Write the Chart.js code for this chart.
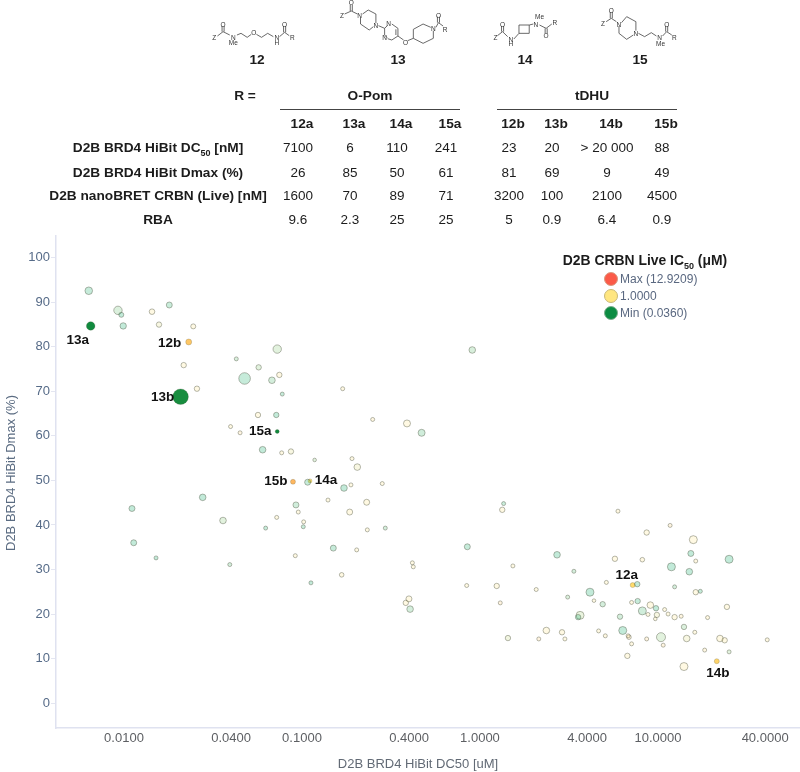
<!DOCTYPE html>
<html>
<head>
<meta charset="utf-8">
<script src="https://cdn.jsdelivr.net/npm/chart.js@4"></script>
<style>
  html, body { margin: 0; padding: 0; background: #fff; }
  #page { position: relative; width: 800px; height: 772px; overflow: hidden; font-family: "Liberation Sans", Arial, sans-serif; }
  #plot { position: absolute; left: 0; top: 0; }
  #mols { position: absolute; left: 0; top: 0; }
  .t { position: absolute; white-space: nowrap; transform: translate(-50%, -50%); color: #1c1c1c; font-size: 13.5px; line-height: 16px; }
  .b { font-weight: bold; font-size: 13.7px; }
  .rule { position: absolute; height: 1px; background: #444; top: 109px; }
  sub { font-size: 9px; line-height: 0; }
  .leg { position: absolute; white-space: nowrap; left: 620px; color: #5a6880; font-size: 12px; line-height: 14px; }
  .dot { position: absolute; left: 604px; width: 12px; height: 12px; border-radius: 50%; border: 1px solid #b3a98a; }
</style>
</head>
<body>
<div id="page">
  <canvas id="plot" width="800" height="772"></canvas>
  <svg id="mols" width="800" height="240"></svg>
  <div id="table"></div>
  <div class="rule" style="left:280px;width:180px"></div>
  <div class="rule" style="left:497px;width:180px"></div>
  <div class="t b" style="left:645px;top:260px;font-size:13.9px">D2B CRBN Live IC<sub>50</sub> (&mu;M)</div>
  <div class="dot" style="top:272px;background:#fb5a48;border-color:#d99a80"></div>
  <div class="dot" style="top:289px;background:#ffe680;border-color:#c9b878"></div>
  <div class="dot" style="top:306px;background:#0c8c42;border-color:#7fae8e"></div>
  <div class="leg" style="top:272px">Max (12.9209)</div>
  <div class="leg" style="top:289px">1.0000</div>
  <div class="leg" style="top:306px">Min (0.0360)</div>
</div>
<script>
// scatter, all compounds
var dc50 = [0.00634,0.00925,0.00966,0.0099,0.01437,0.01797,0.01573,0.0245,0.02165,0.0257,0.04275,0.0571,0.0726,0.0746,0.0476,0.0678,0.0775,0.0566,0.0717,0.0397,0.0449,0.0601,0.0769,0.0867,0.1693,0.905,0.2496,0.389,0.47,0.1178,0.191,0.2045,0.2825,0.1884,0.1076,0.1722,0.02768,0.01109,0.036,0.01134,0.01514,0.0393,0.0625,0.0721,0.0925,0.0953,0.1022,0.1017,0.0917,0.1123,0.14,0.1854,0.2309,0.2328,0.2938,0.15,0.2029,0.1671,1.358,1.334,0.849,2.71,0.417,0.422,1.531,3.37,0.842,1.242,2.07,4.15,3.11,4.37,0.399,0.383,0.405,1.3,3.65,3.56,2.36,2.89,1.436,2.14,3,4.64,5.96,11.7,8.64,15.8,15.3,5.73,8.17,16.3,25.1,11.9,15,7.65,5.13,12.4,16.3,17.3,4.89,7.11,7.69,9.06,9.75,8.17,8.79,9.86,10.9,11.4,9.66,12.4,13.5,19,24.4,6.12,6.34,5.06,6.87,6.8,7.11,8.64,10.4,10.7,6.73,14,16.1,14.5,22.3,23.7,18.3,25.1,14,41.1];
var dmax = [92.6,88.2,87.2,84.7,87.9,89.4,85,84.6,75.9,70.6,77.3,75.4,79.5,73.7,72.9,72.5,69.4,64.7,64.7,62.1,60.7,56.9,56.2,56.5,70.6,79.3,63.7,62.8,60.7,54.6,54.9,53,49.3,49,49.6,48.3,46.2,43.7,41,36,32.6,31.1,39.3,41.7,44.5,42.9,40.7,39.6,33.1,27,45.6,42.9,45.1,38.9,39.3,34.8,34.4,28.8,44.8,43.4,35.1,33.3,31.5,30.6,30.8,29.6,26.4,26.3,25.5,24.9,23.8,23,23.4,22.5,21.1,22.5,19.7,19.3,16.3,15.9,14.6,14.4,14.4,16.2,43.1,39.9,38.3,36.7,33.6,32.4,32.2,31.9,32.3,30.6,29.5,26.7,27.1,26.1,24.9,25.1,22.2,22.6,22.9,22,21.3,20.7,19.9,19.8,21,20,18.9,19.3,19.5,19.2,21.6,19.4,16.3,15.1,14.8,15.1,13.3,14.4,14.8,13,10.6,17.1,15.9,14.5,14.5,14.1,11.9,11.5,8.2,14.2];
var bubbleSize = [3.8,4.2,2.5,3.2,2.8,3,2.7,2.5,2.7,2.7,2,2.7,4.2,2.7,5.8,3.3,2,2.7,2.7,2,2,3.3,2,2.7,2,3.3,2,3.5,3.5,1.8,2,3.3,2,2,3,3.3,3.3,3,3.3,3,2,2,2,2,3,2,2,2,2,2,2,3,3,2,2,3,2,2.3,2,2.7,3,3.3,2,2,2,2,2,2.7,2,4,2,1.8,3,2.7,3.3,2,4,2.7,3.3,2.7,2.7,2,2,2,2,2,2.7,4,3,2.7,2.3,2,4,4,3.3,2.7,2,2,2.7,2,2.7,2,2.7,3.3,2.7,4,2,2.7,2,2,1.8,2.7,2,2,2.7,2.7,4,2,2.3,2,2,2,4.5,2,2.7,2.7,2,3.3,3.3,2.7,2,2,4,2];
var ic50 = [0.2,0.5,0.15,0.15,1,0.25,0.9,1,1,1,0.45,0.6,0.6,1.3,0.2,0.4,0.2,1,0.15,1,2,0.15,1,0.9,1.2,0.45,1.6,1,0.35,0.6,1,0.9,1,1,0.2,0.15,0.15,0.15,0.6,0.15,0.15,0.4,0.2,1,0.35,1,1,0.25,1,0.15,1,1,1.1,1,0.4,0.2,1,1,0.25,1,0.2,0.15,1,1,1,0.4,1,1,1,0.15,0.5,1,1,1,0.4,2.5,0.7,0.15,1,1,0.8,2.5,1,1,1.2,2,1,1,0.15,1,1.2,1.6,0.15,0.15,0.15,0.15,1,0.4,1,0.2,0.4,1,0.2,1,0.15,0.35,1,0.9,1,1.1,1,1,1.8,1.2,1,0.4,0.15,1.2,2,1.5,1.2,2.5,0.6,2,1,0.5,1,0.9,1,1,1.5,0.6,1,1.2];

// compounds from the table, called out on the plot
var calloutNames = ['13a','12b','13b','15a','15b','14a','12a','14b'];
var calloutDc50 = [0.0065,0.0231,0.0208,0.0726,0.089,0.1109,7.21,21.4];
var calloutDmax = [84.7,81.1,68.8,61,49.7,49.9,26.5,9.4];
var calloutSize = [4.3,3,7.8,2,2.5,2,2.5,2.5];
var calloutIc50 = [0.07,3.2,0.1,0.071,4.5,1,1.6,2.1];

var xTicks = [0.01,0.04,0.1,0.4,1,4,10,40];
var yTicks = [0,10,20,30,40,50,60,70,80,90,100];

// table above the plot
var tableColsX = [298,350,397,446,509,552,607,662];
var tableHeads = ['12a','13a','14a','15a','12b','13b','14b','15b'];
var rowLabels = ['D2B BRD4 HiBit DC<sub>50</sub> [nM]','D2B BRD4 HiBit Dmax (%)','D2B nanoBRET CRBN (Live) [nM]','RBA'];
var rowDc50 = ['7100','6','110','241','23','20','> 20 000','88'];
var rowDmax = ['26','85','50','61','81','69','9','49'];
var rowCrbn = ['1600','70','89','71','3200','100','2100','4500'];
var rowRba = ['9.6','2.3','25','25','5','0.9','6.4','0.9'];

function addText(html, x, y, bold) {
  var d = document.createElement('div');
  d.className = bold ? 't b' : 't';
  d.style.left = x + 'px';
  d.style.top = y + 'px';
  d.innerHTML = html;
  document.getElementById('table').appendChild(d);
}
addText('R =', 245, 96, true);
addText('O-Pom', 370, 96, true);
addText('tDHU', 592, 96, true);
[['12',257],['13',398],['14',525],['15',640]].forEach(function (m) { addText(m[0], m[1], 60, true); });
tableHeads.forEach(function (h, i) { addText(h, tableColsX[i] + 4, 124, true); });
[rowDc50, rowDmax, rowCrbn, rowRba].forEach(function (row, r) {
  var y = [148, 173, 196, 220][r];
  addText(rowLabels[r], 158, y, true);
  row.forEach(function (v, i) { addText(v, tableColsX[i], y, false); });
});

// structures
var bonds = [
  [[424,108],[435,95],[448,105]], [[433,95],[433,78]], [[437,95],[437,78]],
  [[462,105],[470,100],[482,112],[490,103]], [[500,103],[510,112],[522,100],[533,110]],
  [[545,110],[555,97],[564,107]], [[553,97],[553,78]], [[557,97],[557,78]],

  [[672,42],[685,33],[697,42]], [[683,33],[683,15]], [[687,33],[687,15]],
  [[703,52],[703,72],[720,90],[728,80]], [[707,42],[718,30],[733,42],[733,70]],
  [[738,77],[750,85],[756,76]], [[750,85],[750,105],[755,113]], [[764,72],[776,85],[776,108],[764,120],[756,116]], [[772,88],[772,105]],
  [[776,108],[787,120]], [[795,122],[806,115],[806,88],[825,72],[840,82]], [[806,115],[825,130],[845,115],[845,92]],
  [[850,82],[855,68],[864,78]], [[853,68],[853,50]], [[857,68],[857,50]],

  [[970,107],[980,95],[990,110]], [[978,95],[978,78]], [[982,95],[982,78]],
  [[1002,117],[1012,100]], [[1012,75],[1032,75],[1032,100],[1012,100],[1012,75]], [[1032,75],[1040,72]],
  [[1052,75],[1065,85],[1076,72]], [[1063,85],[1063,100]], [[1067,85],[1067,100]],

  [[1182,65],[1192,55],[1202,65]], [[1190,55],[1190,36]], [[1194,55],[1194,36]],
  [[1207,78],[1207,100],[1222,118],[1235,105]], [[1212,68],[1222,50],[1240,65],[1240,92]],
  [[1245,100],[1257,110],[1270,98],[1280,108]], [[1292,108],[1300,95],[1310,105]], [[1298,95],[1298,78]], [[1302,95],[1302,78]]
];
var atoms = [
  ['Z',418,112],['O',435,72],['N',455,112],['Me',455,128],['O',495,98],['N',540,113],['H',540,128],['O',555,72],['R',570,112],
  ['Z',667,47],['O',685,8],['N',701,47],['N',733,75],['N',758,70],['N',750,112],['O',791,128],['N',845,85],['O',855,45],['R',868,88],
  ['Z',966,112],['O',980,72],['N',996,118],['H',996,130],['N',1045,72],['Me',1052,50],['O',1065,105],['R',1082,68],
  ['Z',1176,70],['O',1192,30],['N',1207,72],['N',1240,100],['N',1286,112],['Me',1288,130],['O',1300,72],['R',1315,112]
];
var svg = document.getElementById('mols');
var svgNs = 'http://www.w3.org/2000/svg';
bonds.forEach(function (b) {
  var p = document.createElementNS(svgNs, 'polyline');
  p.setAttribute('points', b.map(function (q) { return (q[0] / 1.95) + ',' + (q[1] / 3); }).join(' '));
  p.setAttribute('fill', 'none');
  p.setAttribute('stroke', '#444');
  p.setAttribute('stroke-width', '0.8');
  svg.appendChild(p);
});
atoms.forEach(function (a) {
  var t = document.createElementNS(svgNs, 'text');
  t.setAttribute('x', a[1] / 1.95);
  t.setAttribute('y', a[2] / 3 + 2.5);
  t.setAttribute('text-anchor', 'middle');
  t.setAttribute('font-size', '6.5');
  t.setAttribute('fill', '#333');
  t.textContent = a[0];
  svg.appendChild(t);
});

// green - yellow below 1, yellow - red above, linear like the legend
function ic50Color(v, alpha, lo, mid) {
  var hi = [252, 82, 62];
  var a, b, t;
  if (v < 1) { a = lo; b = mid; t = (v - 0.036) / (1 - 0.036); }
  else { a = mid; b = hi; t = (v - 1) / (12.9209 - 1); }
  var c = a.map(function (x, i) { return Math.round(x + (b[i] - x) * t); });
  return 'rgba(' + c[0] + ',' + c[1] + ',' + c[2] + ',' + alpha + ')';
}

function toPoints(xs, ys, rs, vs) {
  return xs.map(function (x, i) { return { x: x, y: ys[i], r: rs[i], ic: vs[i] }; });
}

var calloutOffsets = { '13a': [-13, 14], '12b': [-19, 1], '13b': [-18, 1], '15a': [-17, 0], '15b': [-17, 0], '14a': [16, -1], '12a': [-6, -10], '14b': [1, 12] };

var textPlugin = {
  id: 'plotText',
  afterDatasetsDraw: function (chart) {
    var c = chart.ctx, sx = chart.scales.x, sy = chart.scales.y;
    c.save();
    c.textAlign = 'center';
    c.textBaseline = 'middle';
    c.font = 'bold 13.5px "Liberation Sans"';
    c.fillStyle = '#111';
    calloutNames.forEach(function (n, i) {
      var o = calloutOffsets[n];
      c.fillText(n, sx.getPixelForValue(calloutDc50[i]) + o[0], sy.getPixelForValue(calloutDmax[i]) + o[1]);
    });
    c.font = '13px "Liberation Sans"';
    c.fillStyle = '#626a75';
    c.fillText('D2B BRD4 HiBit DC50 [uM]', 418, 764);
    c.translate(11, 473);
    c.rotate(-Math.PI / 2);
    c.fillStyle = '#5b6c82';
    c.fillText('D2B BRD4 HiBit Dmax (%)', 0, 0);
    c.restore();
  }
};

new Chart(document.getElementById('plot').getContext('2d'), {
  type: 'bubble',
  data: {
    datasets: [
      {
        label: 'All compounds',
        data: toPoints(dc50, dmax, bubbleSize, ic50),
        backgroundColor: function (ctx) { return ic50Color(ctx.raw.ic, 0.27, [0, 170, 110], [255, 232, 150]); },
        borderColor: 'rgba(75,80,60,0.5)',
        borderWidth: 0.8
      },
      {
        label: 'Table compounds',
        data: toPoints(calloutDc50, calloutDmax, calloutSize, calloutIc50),
        backgroundColor: function (ctx) { return ic50Color(ctx.raw.ic, 1, [8, 135, 60], [255, 225, 110]); },
        borderColor: 'rgba(75,80,60,0.45)',
        borderWidth: 0.5
      }
    ]
  },
  options: {
    responsive: false,
    animation: false,
    events: [],
    layout: { autoPadding: false, padding: { top: 236, right: 0, left: 0, bottom: 0 } },
    plugins: { legend: { display: false }, tooltip: { enabled: false } },
    scales: {
      x: {
        type: 'logarithmic',
        min: 0.00415,
        max: 62.8,
        afterFit: function (s) { s.height = 44; s.paddingLeft = 0; s.paddingRight = 0; },
        afterBuildTicks: function (s) { s.ticks = xTicks.map(function (v) { return { value: v, major: true }; }); },
        grid: { display: false, drawTicks: false },
        border: { color: '#dfe2f0', width: 1.5 },
        ticks: {
          autoSkip: false, maxRotation: 0, color: '#5d5f63', padding: 3,
          font: { family: 'Liberation Sans', size: 13 },
          callback: function (v) { return Number(v).toFixed(4); }
        }
      },
      y: {
        min: -5.6,
        max: 104.9,
        afterFit: function (s) { s.width = 56; s.paddingTop = 0; s.paddingBottom = 0; },
        afterBuildTicks: function (s) { s.ticks = yTicks.map(function (v) { return { value: v }; }); },
        grid: { drawOnChartArea: false, drawTicks: true, tickLength: 5, color: '#e4e6f1' },
        border: { color: '#dfe2f0', width: 1.5 },
        ticks: {
          color: '#566b88', padding: 1,
          font: { family: 'Liberation Sans', size: 13 }
        }
      }
    }
  },
  plugins: [textPlugin]
});
</script>
</body>
</html>
